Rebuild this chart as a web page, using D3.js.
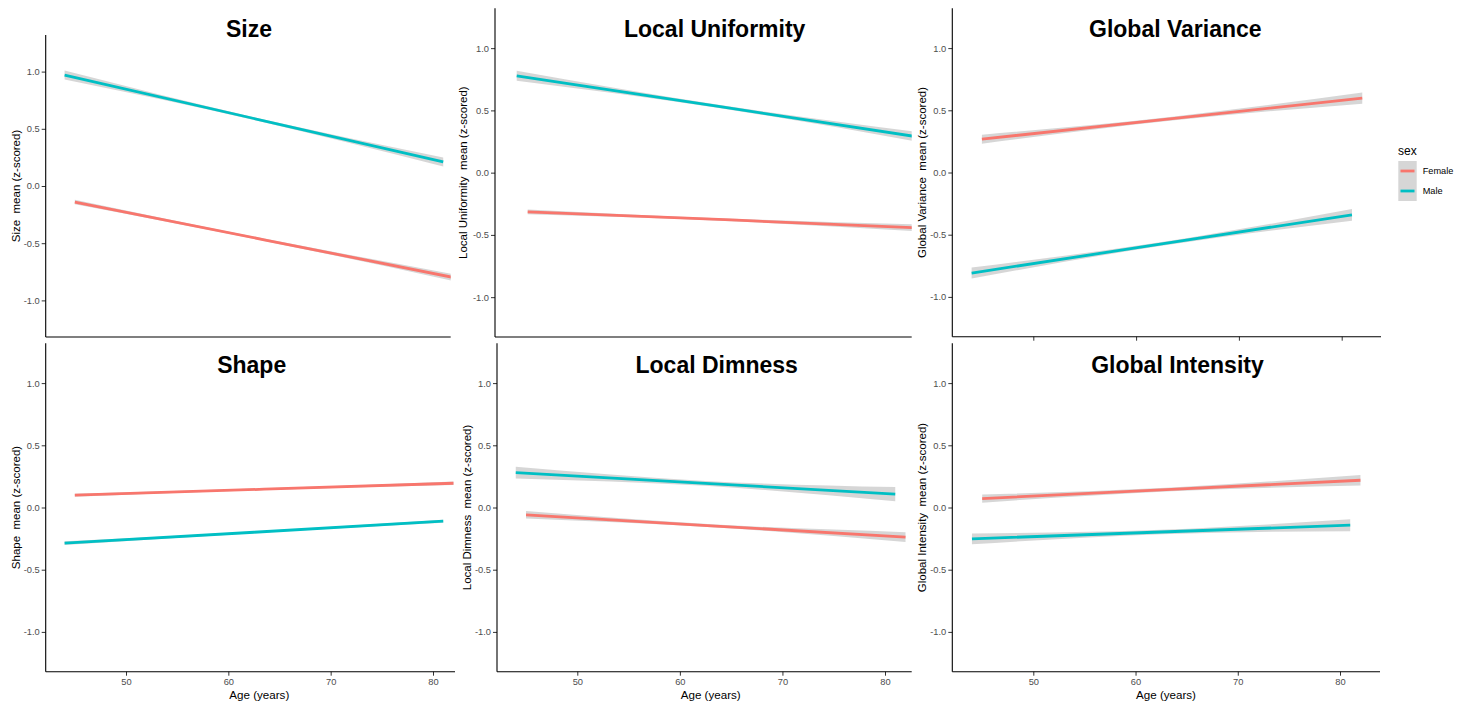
<!DOCTYPE html>
<html>
<head>
<meta charset="utf-8">
<title>Age trends by sex</title>
<script src="https://cdn.jsdelivr.net/npm/d3@7"></script>
<style>
  body { margin: 0; background: #fff; }
  svg { font-family: "Liberation Sans", Arial, sans-serif; }
</style>
</head>
<body>
<svg id="viz" width="1468" height="706"></svg>
<script>
// ---- data ----
var measures = ["Size", "Local Uniformity", "Global Variance", "Shape", "Local Dimness", "Global Intensity"];
var sexes = ["Female", "Male"];
var sexColors = ["#F8766D", "#00BFC4"];

// ages where each fitted line starts, sits in the middle and ends
var ageFemale = [45, 63.5, 82];
var ageMale = [44, 62.5, 81];

// fitted mean (z-scored) at those ages, one row per measure
var fitFemale = [
  [-0.14, -0.47, -0.80],
  [-0.315, -0.38, -0.45],
  [0.268, 0.433, 0.598],
  [0.099, 0.147, 0.195],
  [-0.059, -0.149, -0.238],
  [0.072, 0.146, 0.219]
];
var fitMale = [
  [0.97, 0.59, 0.21],
  [0.778, 0.53, 0.28],
  [-0.808, -0.574, -0.340],
  [-0.287, -0.199, -0.110],
  [0.281, 0.194, 0.107],
  [-0.252, -0.197, -0.142]
];

// half width of the grey confidence band at those ages
var ciFemale = [
  [0.02, 0.01, 0.03],
  [0.02, 0.01, 0.03],
  [0.036, 0.015, 0.045],
  [0.012, 0.007, 0.015],
  [0.03, 0.012, 0.04],
  [0.033, 0.015, 0.043]
];
var ciMale = [
  [0.04, 0.012, 0.04],
  [0.04, 0.013, 0.04],
  [0.044, 0.015, 0.047],
  [0.015, 0.007, 0.012],
  [0.047, 0.02, 0.057],
  [0.043, 0.018, 0.048]
];

var yTicks = [-1.0, -0.5, 0.0, 0.5, 1.0];
var xTicks = [50, 60, 70, 80];
var yLimits = [-1.32, 1.32];

// ---- where each (cropped) panel sits on the page ----
var layout = [
  {left: 45.7, right: 450.7, top: 35, bottom: 337, x50: 126, x80: 433, titleX: 249, titleY: 36.7, labelX: 15.5, xTicks: false, xLabels: false},
  {left: 495, right: 911.7, top: 8.3, bottom: 337, x50: 582.7, x80: 912.7, titleX: 714.7, titleY: 37.3, labelX: 462.8, xTicks: false, xLabels: false},
  {left: 952.3, right: 1381, top: 8.3, bottom: 336.7, x50: 1033.3, x80: 1341.7, titleX: 1175.3, titleY: 36.7, labelX: 922.3, xTicks: true, xLabels: false},
  {left: 45.7, right: 455, top: 343.3, bottom: 671.7, x50: 126, x80: 433, titleX: 251.7, titleY: 373.3, labelX: 15.5, xTicks: true, xLabels: true, ageX: 259.3},
  {left: 497, right: 911.7, top: 343.3, bottom: 671.7, x50: 577.3, x80: 885, titleX: 716.7, titleY: 373.3, labelX: 466.7, xTicks: true, xLabels: true, ageX: 710.7},
  {left: 952.3, right: 1380, top: 343.3, bottom: 671.7, x50: 1033.3, x80: 1340, titleX: 1177.5, titleY: 373.3, labelX: 922.3, xTicks: true, xLabels: true, ageX: 1166}
];

var svg = d3.select("#viz");
var defs = svg.append("defs");

var drawPanel = function(p, i) {
  var x = d3.scaleLinear().domain([50, 80]).range([p.x50, p.x80]);
  var y = d3.scaleLinear().domain(yLimits).range([p.bottom, p.top]);

  defs.append("clipPath").attr("id", "clip" + i)
    .append("rect")
    .attr("x", p.left).attr("y", p.top)
    .attr("width", p.right - p.left).attr("height", p.bottom - p.top);

  var g = svg.append("g");
  var plot = g.append("g").attr("clip-path", "url(#clip" + i + ")");

  var series = [
    {ages: ageFemale, fit: fitFemale[i], ci: ciFemale[i], color: sexColors[0]},
    {ages: ageMale, fit: fitMale[i], ci: ciMale[i], color: sexColors[1]}
  ];

  var band = d3.area()
    .curve(d3.curveNatural)
    .x(function(d) { return x(d.age); })
    .y0(function(d) { return y(d.fit - d.ci); })
    .y1(function(d) { return y(d.fit + d.ci); });

  var line = d3.line()
    .x(function(d) { return x(d.age); })
    .y(function(d) { return y(d.fit); });

  series.forEach(function(s) {
    var pts = s.ages.map(function(a, k) { return {age: a, fit: s.fit[k], ci: s.ci[k]}; });
    plot.append("path").datum(pts)
      .attr("d", band)
      .attr("fill", "#999999")
      .attr("fill-opacity", 0.4);
    s.pts = pts;
  });
  series.forEach(function(s) {
    plot.append("path").datum(s.pts)
      .attr("d", line)
      .attr("fill", "none")
      .attr("stroke", s.color)
      .attr("stroke-width", 2.8);
  });

  // y axis
  var yAxis = d3.axisLeft(y)
    .tickValues(yTicks)
    .tickFormat(function(d) { return d.toFixed(1); })
    .tickSize(4)
    .tickSizeOuter(0)
    .tickPadding(2);
  var ya = g.append("g").attr("transform", "translate(" + p.left + ",0)").call(yAxis);
  ya.select(".domain").remove();
  ya.selectAll(".tick line").attr("stroke", "#333333");
  ya.selectAll(".tick text").attr("fill", "#4D4D4D").style("font-size", "9.3px")
    .style("font-family", "Liberation Sans, Arial, sans-serif");

  g.append("line")
    .attr("x1", p.left).attr("x2", p.left)
    .attr("y1", y(yLimits[1])).attr("y2", y(yLimits[0]))
    .attr("stroke", "#000").attr("stroke-width", 1.1);

  // x axis
  if (p.xTicks) {
    var xAxis = d3.axisBottom(x)
      .tickValues(xTicks)
      .tickFormat(p.xLabels ? d3.format("d") : "")
      .tickSize(4)
      .tickSizeOuter(0)
      .tickPadding(3);
    var xa = g.append("g").attr("transform", "translate(0," + p.bottom + ")").call(xAxis);
    xa.select(".domain").remove();
    xa.selectAll(".tick line").attr("stroke", "#333333");
    xa.selectAll(".tick text").attr("fill", "#4D4D4D").style("font-size", "9.3px")
      .style("font-family", "Liberation Sans, Arial, sans-serif");
  }
  g.append("line")
    .attr("x1", p.left).attr("x2", p.right)
    .attr("y1", p.bottom).attr("y2", p.bottom)
    .attr("stroke", "#000").attr("stroke-width", 1.1);

  // title
  g.append("text")
    .attr("x", p.titleX).attr("y", p.titleY)
    .attr("text-anchor", "middle")
    .style("font-size", "23px").style("font-weight", "bold")
    .text(measures[i]);

  // y label
  g.append("text")
    .attr("transform", "translate(" + p.labelX + "," + y(0) + ") rotate(-90)")
    .attr("text-anchor", "middle")
    .attr("dominant-baseline", "central")
    .style("font-size", "11.5px")
    .style("white-space", "pre")
    .text(measures[i] + "  mean (z-scored)");

  if (p.xLabels) {
    g.append("text")
      .attr("x", p.ageX).attr("y", 698.5)
      .attr("text-anchor", "middle")
      .style("font-size", "11.6px")
      .text("Age (years)");
  }
};

layout.forEach(drawPanel);

// legend
var legend = svg.append("g");
legend.append("text").attr("x", 1398).attr("y", 154.5)
  .style("font-size", "12px").text("sex");
legend.append("rect")
  .attr("x", 1398.3).attr("y", 161).attr("width", 18.4).attr("height", 40)
  .attr("fill", "#999999").attr("fill-opacity", 0.4);
sexes.forEach(function(s, k) {
  var yy = 171 + k * 20;
  legend.append("line")
    .attr("x1", 1400.5).attr("x2", 1414.5).attr("y1", yy).attr("y2", yy)
    .attr("stroke", sexColors[k]).attr("stroke-width", 2.8);
  legend.append("text")
    .attr("x", 1422.7).attr("y", yy)
    .attr("dominant-baseline", "central")
    .style("font-size", "9.2px")
    .text(s);
});
</script>
</body>
</html>
